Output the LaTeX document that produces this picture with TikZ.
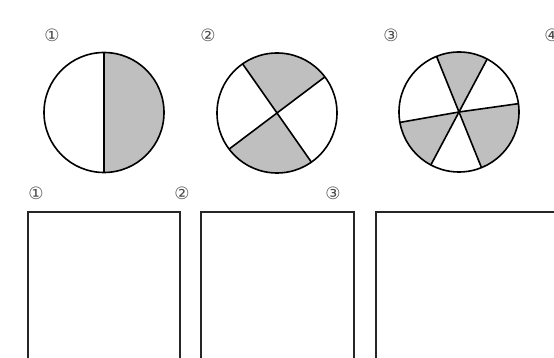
\documentclass[tikz,border=0pt]{standalone}
\usepackage{fontspec}
\newfontfamily\symfont{DejaVu Sans}
\usetikzlibrary{positioning}

\begin{document}
\begin{tikzpicture}[
    x=1pt, y=1pt,
    pie/.style={circle, draw=black, line width=1.6pt, minimum size=120pt, inner sep=0pt},
    num/.style={font=\symfont\fontsize{17}{17}\selectfont, text=black!70, inner sep=0pt},
    box/.style={draw=black!85, line width=1.6pt},
    part/.style={fill=black!25},
    seg/.style={draw=black, line width=1.6pt}
]
    \useasboundingbox (0,0) rectangle (554,358);
    \clip (0,0) rectangle (554,358);

    % circle centres
    \coordinate (c1) at (104,245.5);
    \coordinate (c2) at (277,245);
    \coordinate (c3) at (459,246);

    % shaded parts
    \fill [part] (c1) -- +(-90:60) arc [start angle=-90, end angle=90, radius=60] -- cycle;
    \fill [part] (c2) -- +(37:60) arc [start angle=37, end angle=125, radius=60] -- cycle;
    \fill [part] (c2) -- +(217:60) arc [start angle=217, end angle=305, radius=60] -- cycle;
    \foreach \a/\b in {62/112, 190/242, 292/368}
        \fill [part] (c3) -- +(\a:60) arc [start angle=\a, end angle=\b, radius=60] -- cycle;

    % dividing lines
    \draw [seg] (c1) +(90:60) -- +(270:60);
    \draw [seg] (c2) +(37:60) -- +(217:60);
    \draw [seg] (c2) +(125:60) -- +(305:60);
    \foreach \a in {8, 62, 112, 190, 242, 292}
        \draw [seg] (c3) -- +(\a:60);

    \node [pie] (pie1) at (c1) {};
    \node [pie] (pie2) at (c2) {};
    \node [pie] (pie3) at (c3) {};

    % numbers
    \node [num] (t1) at (52,323) {①};
    \node [num] (t2) at (208,323) {②};
    \node [num] (t3) at (391,323) {③};
    \node [num] (t4) at (552,323) {④};

    \node [num] (b1) at (36,165) {①};
    \node [num] (b2) at (182,165) {②};
    \node [num] (b3) at (333,165) {③};

    % empty boxes
    \draw [box] (28,-10) -- (28,146) -- (180,146) -- (180,-10);
    \draw [box] (201,-10) -- (201,146) -- (354,146) -- (354,-10);
    \draw [box] (376,-10) -- (376,146) -- (600,146);
\end{tikzpicture}
\end{document}
